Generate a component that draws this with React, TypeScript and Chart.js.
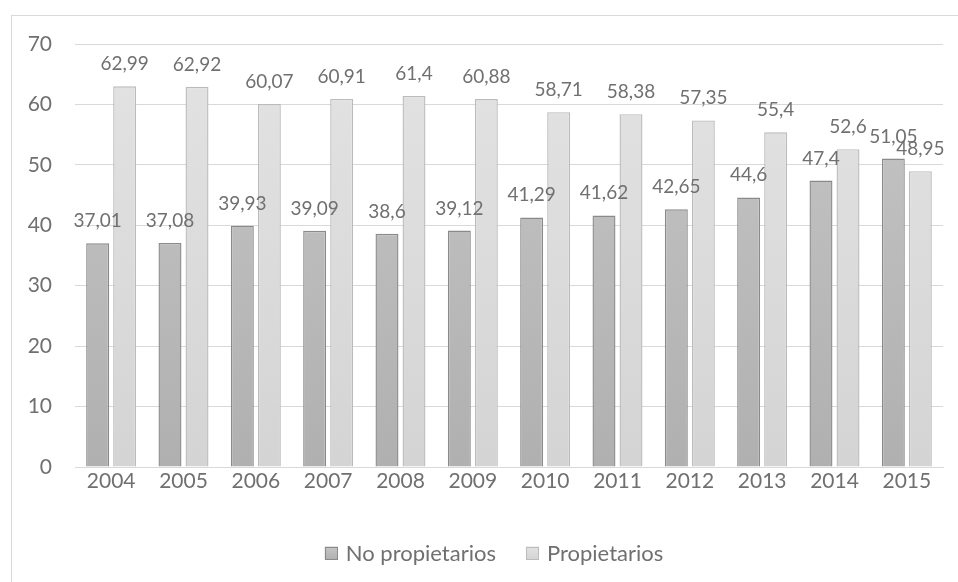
import React, { useEffect, useRef } from "react";
import { Chart, registerables } from "chart.js";

Chart.register(...registerables);

const years = ["2004", "2005", "2006", "2007", "2008", "2009", "2010", "2011", "2012", "2013", "2014", "2015"];
const noPropietarios = [37.01, 37.08, 39.93, 39.09, 38.6, 39.12, 41.29, 41.62, 42.65, 44.6, 47.4, 51.05];
const propietarios = [62.99, 62.92, 60.07, 60.91, 61.4, 60.88, 58.71, 58.38, 57.35, 55.4, 52.6, 48.95];
const seriesNames = ["No propietarios", "Propietarios"];

const FONT = "Lato, 'Open Sans', sans-serif";
const TEXT = "#707070";
const FILLS = [["#c6c6c6", "#b0b0b0"], ["#e3e3e3", "#d4d4d4"]];
const BORDERS = ["#8a8a8a", "#bbbbbb"];

function gradient(chart: any, top: string, bottom: string) {
  const area = chart.chartArea;
  if (!area) return top;
  const g = chart.ctx.createLinearGradient(0, area.top, 0, area.bottom);
  g.addColorStop(0, top);
  g.addColorStop(1, bottom);
  return g;
}

const framePlugin = {
  id: "frame",
  beforeDraw(chart: any) {
    const ctx = chart.ctx;
    ctx.save();
    ctx.strokeStyle = "#d9d9d9";
    ctx.lineWidth = 1;
    ctx.strokeRect(11.5, 15.5, 1000, 1000);
    ctx.restore();
  },
};

const labelPlugin = {
  id: "valueLabels",
  afterDatasetsDraw(chart: any) {
    const ctx = chart.ctx;
    ctx.save();
    ctx.font = `19px ${FONT}`;
    ctx.fillStyle = TEXT;
    ctx.textAlign = "center";
    ctx.textBaseline = "alphabetic";
    chart.data.datasets.forEach((ds: any, i: number) => {
      const meta = chart.getDatasetMeta(i);
      meta.data.forEach((bar: any, j: number) => {
        const v = ds.data[j];
        ctx.fillText(String(v).replace(".", ","), bar.x, bar.y - 16);
      });
    });
    ctx.restore();
  },
};

const legendPlugin = {
  id: "customLegend",
  afterDraw(chart: any) {
    const ctx = chart.ctx;
    ctx.save();
    ctx.font = `22px ${FONT}`;
    ctx.textBaseline = "middle";
    ctx.textAlign = "left";
    const box = 13;
    const gap = 8;
    const itemGap = 30;
    const cy = 553;
    const widths = chart.data.datasets.map((ds: any) => box + gap + ctx.measureText(ds.label).width);
    const total = widths.reduce((a: number, b: number) => a + b, 0) + itemGap * (widths.length - 1);
    let x = 494 - total / 2;
    chart.data.datasets.forEach((ds: any, i: number) => {
      const g = ctx.createLinearGradient(0, cy - box / 2, 0, cy + box / 2);
      g.addColorStop(0, FILLS[i][0]);
      g.addColorStop(1, FILLS[i][1]);
      ctx.fillStyle = g;
      ctx.fillRect(x, cy - box / 2, box, box);
      ctx.strokeStyle = BORDERS[i];
      ctx.lineWidth = 1;
      ctx.strokeRect(Math.round(x) + 0.5, Math.round(cy - box / 2) + 0.5, box - 1, box - 1);
      ctx.fillStyle = TEXT;
      ctx.fillText(ds.label, x + box + gap, cy + 1);
      x += widths[i] + itemGap;
    });
    ctx.restore();
  },
};

export default function App() {
  const ref = useRef<HTMLCanvasElement>(null);
  useEffect(() => {
    document.body.style.margin = "0";
    const canvas = ref.current!;
    const chart = new Chart(canvas, {
      type: "bar",
      data: {
        labels: years,
        datasets: [
          {
            label: seriesNames[0],
            data: noPropietarios,
            backgroundColor: (c: any) => gradient(c.chart, FILLS[0][0], FILLS[0][1]),
            borderColor: BORDERS[0],
            borderWidth: 1.4,
            categoryPercentage: 0.747,
            barPercentage: 0.85,
          },
          {
            label: seriesNames[1],
            data: propietarios,
            backgroundColor: (c: any) => gradient(c.chart, FILLS[1][0], FILLS[1][1]),
            borderColor: BORDERS[1],
            borderWidth: 1.4,
            categoryPercentage: 0.747,
            barPercentage: 0.85,
          },
        ],
      },
      options: {
        responsive: false,
        animation: false,
        layout: { padding: { left: 15, right: 15, top: 44, bottom: 0 } },
        plugins: {
          tooltip: { enabled: false },
          legend: { display: false },
        },
        scales: {
          x: {
            grid: { display: false, drawTicks: false },
            border: { color: "#d9d9d9", width: 1 },
            ticks: { color: TEXT, font: { family: FONT, size: 21 }, padding: 2 },
            afterFit: (s: any) => {
              s.height = 115;
            },
          },
          y: {
            min: 0,
            max: 70,
            ticks: { stepSize: 10, color: TEXT, font: { family: FONT, size: 21 }, padding: 23 },
            grid: { color: "#d9d9d9", drawTicks: false },
            border: { display: false },
            afterFit: (s: any) => {
              s.width = 60;
            },
          },
        },
      },
      plugins: [framePlugin, labelPlugin, legendPlugin],
    });
    return () => chart.destroy();
  }, []);
  return (
    <div style={{ position: "absolute", left: 0, top: 0, width: 958, height: 582, background: "#fff" }}>
      <canvas ref={ref} width={958} height={582} style={{ display: "block", width: 958, height: 582 }} />
    </div>
  );
}
